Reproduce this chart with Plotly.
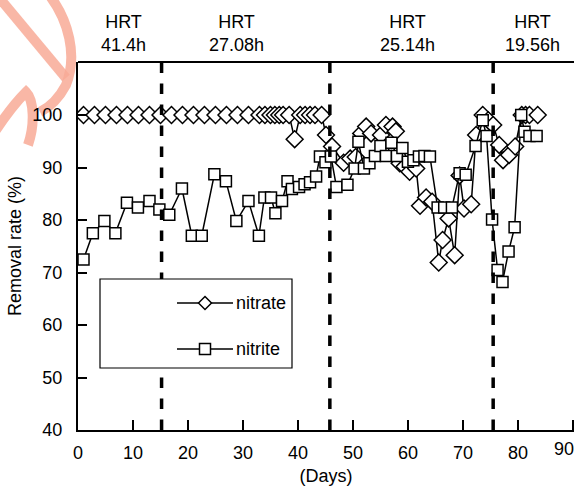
import plotly.graph_objects as go

# ---------------- data ----------------
nitrate_days = [1, 3, 5, 7, 9, 11, 13, 15, 17, 19, 21, 23, 25, 27, 29, 31, 33,
                34, 35, 35.8, 36.6, 37.3, 38.4, 39.4, 40.4, 41.3, 42.2, 43.1, 44.3,
                45.1, 46.2, 48.3, 49.5, 50.5, 51.5, 52.4, 53.3, 55.1, 56, 57.2, 57.8,
                58.5, 59.4, 60.3, 61.5, 62.2, 63.3, 64.4, 65.6, 66.3, 67.4, 68.5,
                69.4, 70.2, 71.5, 72.4, 73.6, 74.6, 75.5, 76.6, 77.3, 78.4, 79.5,
                80.7, 81.4, 82.1, 83.6]
nitrate_vals = [100, 100, 100, 100, 100, 100, 100, 100, 100, 100, 100, 100, 100, 100, 100, 100, 100,
                100, 100, 100, 100, 100, 100, 95.4, 100, 100, 100, 100, 100,
                96.2, 94.0, 90.9, 91.7, 92.0, 96.5, 97.8, 96.5, 96.2, 98.1, 97.8, 96.9,
                90.8, 90.2, 89.2, 89.8, 82.7, 84.3, 83.5, 71.9, 76.2, 80.3, 73.3,
                88.5, 82.2, 83.0, 96.2, 100, 99.0, 98.1, 94.3, 91.4, 92.4, 94.0,
                100, 100, 100, 100]

nitrite_days = [1, 2.7, 4.8, 6.8, 8.9, 10.9, 13, 14.8, 16.6, 18.9, 20.7, 22.5, 24.8, 26.9,
                28.8, 31, 32.9, 33.9, 35.1, 35.9, 37.1, 38.1, 38.9, 40.2, 41.2, 42.2, 43.3,
                44, 45, 46, 47, 49, 50.3, 51, 52, 53, 54, 55, 56, 57, 58, 59, 60, 61, 62,
                63, 64, 65.4, 66.6, 68, 69.4, 70.5, 72.3, 73.6, 74.3, 75.3, 76.3, 77.2,
                78.3, 79.4, 80.6, 81.2, 82.1, 83.4]
nitrite_vals = [72.5, 77.5, 79.8, 77.5, 83.3, 82.4, 83.6, 82.0, 81.0, 86.0, 77.0, 77.0, 88.7, 87.4,
                79.8, 83.6, 77.0, 84.3, 84.3, 81.3, 83.6, 87.4, 85.9, 86.3, 86.8, 87.2, 88.3,
                92.1, 91.0, 92.1, 86.3, 86.7, 89.8, 94.9, 89.8, 90.8, 92.2, 94.1, 92.2, 94.7,
                92.2, 93.7, 91.1, 91.4, 92.1, 92.2, 92.1, 82.4, 82.4, 82.4, 88.9, 88.6, 94.1,
                99.0, 96.0, 80.1, 70.5, 68.2, 74.0, 78.6, 100, 96.8, 96.0, 96.0]

hrt_boundaries = [15.2, 45.8, 75.5]
hrt_labels = ["HRT<br>41.4h", "HRT<br>27.08h", "HRT<br>25.14h", "HRT<br>19.56h"]
hrt_label_days = [8.2, 28.9, 60.0, 82.6]

x_ticks = [0, 10, 20, 30, 40, 50, 60, 70, 80, 90]
y_ticks = [40, 50, 60, 70, 80, 90, 100]

# ---------------- layout constants ----------------
W, H = 576, 487
ML, MR, MT, MB = 78, 2, 62, 57
PW, PH = W - ML - MR, H - MT - MB
FONT = "Liberation Sans, Arial, sans-serif"
FS = 18


def px(xp):
    return (xp - ML) / PW


def py(yp):
    return (H - MB - yp) / PH


fig = go.Figure()

fig.add_trace(go.Scatter(
    x=nitrate_days, y=nitrate_vals, mode="lines+markers", name="nitrate",
    line=dict(color="black", width=1.5),
    marker=dict(symbol="diamond", size=13, color="white", line=dict(color="black", width=1.5)),
    showlegend=False))
fig.add_trace(go.Scatter(
    x=nitrite_days, y=nitrite_vals, mode="lines+markers", name="nitrite",
    line=dict(color="black", width=1.5),
    marker=dict(symbol="square", size=11, color="white", line=dict(color="black", width=1.5)),
    showlegend=False))

shapes = []
for d in hrt_boundaries:
    shapes.append(dict(type="line", xref="x", yref="paper", x0=d, x1=d, y0=0, y1=1,
                       line=dict(color="black", width=3.5, dash="dash")))
# top border
shapes.append(dict(type="line", xref="paper", yref="paper", x0=0, x1=1, y0=1, y1=1,
                   line=dict(color="black", width=2)))
# legend box
shapes.append(dict(type="rect", xref="paper", yref="paper", x0=px(100), x1=px(292),
                   y0=py(368), y1=py(279), line=dict(color="black", width=1.2),
                   fillcolor="white", layer="above"))
annotations = []
legend_items = [("nitrate", "diamond", 303), ("nitrite", "square", 349)]
for name, sym, yy in legend_items:
    shapes.append(dict(type="line", xref="paper", yref="paper", x0=px(177), x1=px(233),
                       y0=py(yy), y1=py(yy), line=dict(color="black", width=1.5), layer="above"))
    if sym == "diamond":
        path = "M {0},{1} L {2},{3} L {0},{4} L {5},{3} Z".format(
            px(205), py(yy - 6.5), px(211.5), py(yy), py(yy + 6.5), px(198.5))
        shapes.append(dict(type="path", xref="paper", yref="paper", path=path,
                           fillcolor="white", line=dict(color="black", width=1.5), layer="above"))
    else:
        shapes.append(dict(type="rect", xref="paper", yref="paper", x0=px(199.5), x1=px(210.5),
                           y0=py(yy + 5.5), y1=py(yy - 5.5), fillcolor="white",
                           line=dict(color="black", width=1.5), layer="above"))
    annotations.append(dict(x=px(234), y=py(yy), xref="paper", yref="paper", text=name,
                            showarrow=False, xanchor="left", yanchor="middle",
                            font=dict(family=FONT, size=FS, color="black")))

for lab, d in zip(hrt_labels, hrt_label_days):
    annotations.append(dict(x=d, y=py(33), xref="x", yref="paper", text=lab, showarrow=False,
                            xanchor="center", yanchor="middle",
                            font=dict(family=FONT, size=FS, color="black")))

# right-most tick label, kept inside the frame as in the original
annotations.append(dict(x=px(564), y=0, xref="paper", yref="paper", text="90",
                        showarrow=False, xanchor="center", yanchor="top", yshift=-7,
                        font=dict(family=FONT, size=FS, color="black")))

# faint watermark strokes in the upper-left corner
wm = "rgba(248,170,150,0.85)"
wm_paths = [
    "M -4,-6 L 66,78",
    "M 50,-4 C 68,20 78,55 66,85 C 58,100 48,108 40,112",
    "M -4,130 C 8,112 18,100 26,92 C 34,100 35,125 28,145",
]


def conv_path(p):
    toks = p.replace(",", " ").split()
    out, nums = [], []
    for t in toks:
        if t.isalpha():
            out.append(t)
        else:
            nums.append(float(t))
            if len(nums) == 2:
                out.append("{:.4f},{:.4f}".format(px(nums[0]), py(nums[1])))
                nums = []
    return " ".join(out)


for p in wm_paths:
    shapes.append(dict(type="path", xref="paper", yref="paper", path=conv_path(p),
                       line=dict(color=wm, width=10), layer="below"))

fig.update_layout(
    width=W, height=H, margin=dict(l=ML, r=MR, t=MT, b=MB),
    paper_bgcolor="white", plot_bgcolor="white",
    font=dict(family=FONT, size=FS, color="black"),
    shapes=shapes, annotations=annotations,
    xaxis=dict(range=[0, 90.2], tickvals=x_ticks,
               ticktext=[str(v) if v != 90 else "" for v in x_ticks],
               ticks="inside", ticklen=10, tickwidth=2, tickcolor="black",
               showline=True, linewidth=2, linecolor="black", showgrid=False, zeroline=False,
               ticklabelstandoff=5,
               tickfont=dict(family=FONT, size=FS),
               title=dict(text="(Days)", standoff=8, font=dict(family=FONT, size=FS))),
    yaxis=dict(range=[40, 110.1], tickvals=y_ticks, ticks="inside", ticklen=9, tickwidth=2,
               tickcolor="black", showline=True, linewidth=2, linecolor="black",
               showgrid=False, zeroline=False, ticklabelstandoff=10,
               tickfont=dict(family=FONT, size=FS),
               title=dict(text="Removal rate (%)", standoff=6, font=dict(family=FONT, size=FS))),
)

fig.write_html("out.html")
